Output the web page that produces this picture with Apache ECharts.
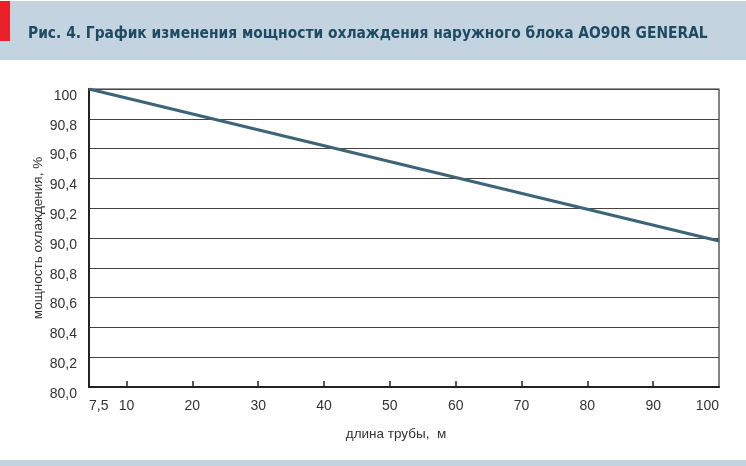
<!DOCTYPE html>
<html>
<head>
<meta charset="utf-8">
<script src="https://cdn.jsdelivr.net/npm/echarts@6/dist/echarts.min.js"></script>
<style>
  html, body { margin: 0; padding: 0; background: #fff; }
  #chart { width: 746px; height: 466px; }
</style>
</head>
<body>
<div id="chart"></div>
<script>
// данные с рисунка
const lengths = [7.5, 100];          // длина трубы, м
const power = [100, 89.8];           // мощность охлаждения, %
const xTickValues = [10, 20, 30, 40, 50, 60, 70, 80, 90];
const xLabelValues = [7.5, 10, 20, 30, 40, 50, 60, 70, 80, 90, 100];
const xTickLabels = ['7,5', '10', '20', '30', '40', '50', '60', '70', '80', '90', '100'];
const yTickLabels = ['80,0', '80,2', '80,4', '80,6', '80,8', '90,0', '90,2', '90,4', '90,6', '90,8', '100'];

// на исходном рисунке 7,5 м стоит в самом углу оси, шаг до 10 сжат
const X_LEFT = 4.3;
const xPos = v => (v === lengths[0] ? X_LEFT : v);

const FONT = '"Liberation Sans", Arial, sans-serif';
const chart = echarts.init(document.getElementById('chart'), null, { renderer: 'canvas' });

chart.setOption({
    backgroundColor: '#ffffff',
    animation: false,
    graphic: [
        { type: 'rect', left: 0, top: 1, shape: { width: 746, height: 59 }, style: { fill: '#c3d3df' }, z: -10 },
        { type: 'rect', left: 0, top: 1, shape: { width: 10, height: 40 }, style: { fill: '#e8202a' }, z: -9 },
        { type: 'rect', left: 0, top: 460, shape: { width: 746, height: 6 }, style: { fill: '#c3d3df' }, z: -10 }
    ],
    title: {
        text: 'Рис. 4. График изменения мощности охлаждения наружного блока AO90R GENERAL',
        left: 28,
        top: 26,
        padding: 0,
        textStyle: {
            fontFamily: '"DejaVu Sans Condensed", sans-serif',
            fontWeight: 'bold',
            fontSize: 15.4,
            color: '#1e4b63'
        }
    },
    grid: {
        left: 89, right: 27, top: 89, bottom: 79,
        show: true, borderColor: '#333', borderWidth: 1.2,
        containLabel: false
    },
    xAxis: {
        type: 'value',
        min: X_LEFT,
        max: 100,
        name: 'длина трубы,  м',
        nameLocation: 'middle',
        nameGap: 40,
        nameMoveOverlap: false,
        nameTextStyle: { fontFamily: FONT, fontSize: 13.5, color: '#333', padding: [0, 16, 0, 0] },
        axisLine: { show: true, onZero: false, lineStyle: { color: '#222', width: 2 } },
        axisTick: {
            show: true, inside: true, length: 6,
            customValues: xTickValues,
            lineStyle: { color: '#222', width: 1.5 }
        },
        axisLabel: {
            customValues: xLabelValues.map(xPos),
            alignMinLabel: 'left',
            alignMaxLabel: 'right',
            margin: 12,
            fontFamily: FONT, fontSize: 14, color: '#333',
            formatter: v => {
                const i = xLabelValues.map(xPos).findIndex(p => Math.abs(p - v) < 1e-6);
                return i >= 0 ? xTickLabels[i] : '';
            }
        },
        splitLine: { show: false }
    },
    yAxis: {
        type: 'value',
        min: 80,
        max: 100,
        interval: 2,
        name: 'мощность охлаждения, %',
        nameLocation: 'middle',
        nameGap: 44,
        nameMoveOverlap: false,
        nameTextStyle: { fontFamily: FONT, fontSize: 13.5, color: '#333' },
        axisLine: { show: true, lineStyle: { color: '#222', width: 2 } },
        axisTick: { show: false },
        axisLabel: {
            margin: 12,
            fontFamily: FONT, fontSize: 14, color: '#333',
            verticalAlign: 'top',
            formatter: v => yTickLabels[Math.round((v - 80) / 2)]
        },
        splitLine: { show: true, lineStyle: { color: '#444', width: 1.2 } }
    },
    series: [{
        type: 'line',
        data: lengths.map((v, i) => [xPos(v), power[i]]),
        symbol: 'none',
        lineStyle: { color: '#3d6477', width: 3.2 },
        z: 5
    }]
});
</script>
</body>
</html>
